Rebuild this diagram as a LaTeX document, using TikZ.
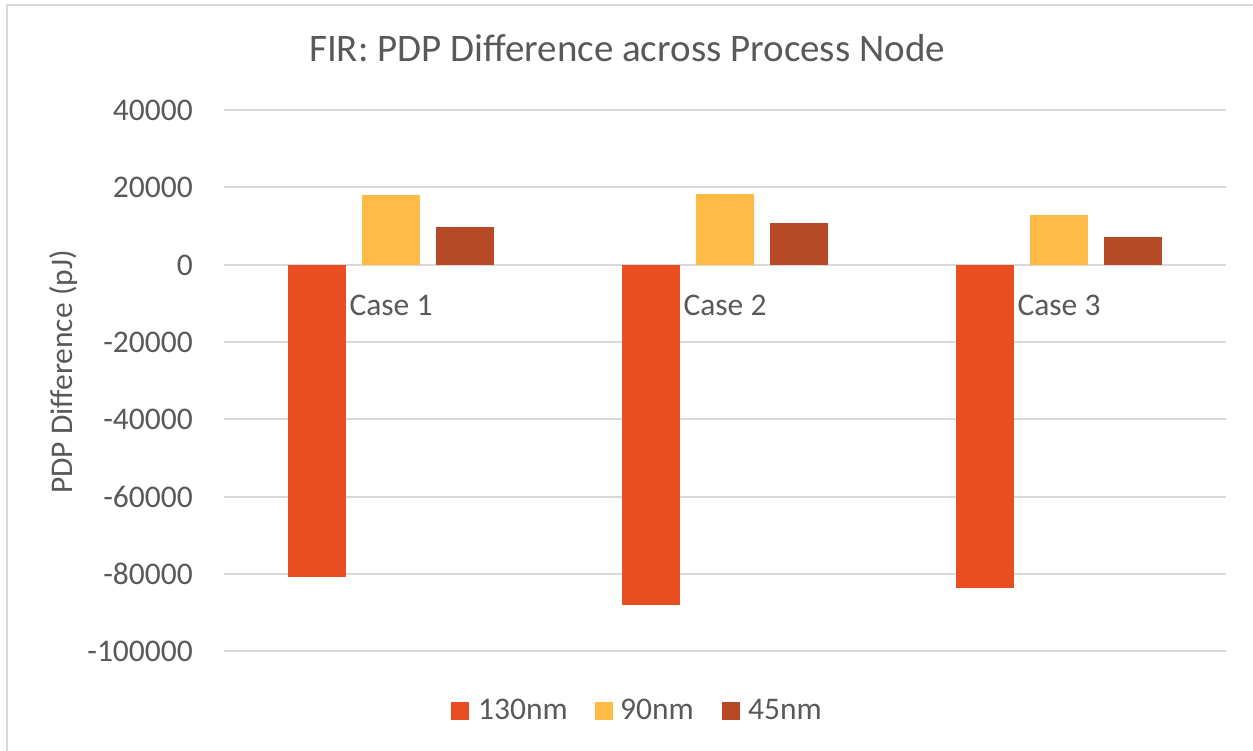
\documentclass[tikz,border=0pt]{standalone}
\usepackage{fontspec}
\setmainfont{Carlito}
\usetikzlibrary{positioning}
\definecolor{gridgray}{HTML}{D9D9D9}
\definecolor{textgray}{HTML}{595959}
\definecolor{nmA}{HTML}{E84E22}
\definecolor{nmB}{HTML}{FFBB46}
\definecolor{nmC}{HTML}{B64926}

\begin{document}
\begin{tikzpicture}[x=1pt,y=-1pt]
    \tikzstyle{every node}+=[inner sep=0pt, text=textgray, font=\fontsize{31.5}{36}\selectfont]
    \tikzstyle{grid}=[gridgray, line width=2]
    \tikzstyle{legbox}=[minimum size=18, anchor=center]
    \useasboundingbox (0,0) rectangle (1253,750);
    \draw [gridgray, line width=2] (7,760) -- (7,5) -- (1260,5);
    \node [anchor=base, font=\fontsize{39}{45}\selectfont] (title) at (627,61) {FIR: PDP Difference across Process Node};
    \node [anchor=base, rotate=90] (ytitle) at (72,372) {PDP Difference (pJ)};
    % gridlines
    \foreach \i/\lab in {2/40000,1/20000,0/0,-1/-20000,-2/-40000,-3/-60000,-4/-80000,-5/-100000} {
        \pgfmathsetmacro{\yy}{264.6-77.3*\i}
        \draw [grid] (224,\yy) -- (1226,\yy);
        \node [anchor=base east] (tick\i) at (193,\yy+10.5) {\lab};
    }
    % bars
    \foreach \c/\a/\b/\d in {1/-80.83/17.93/9.65, 2/-88.07/18.19/10.69, 3/-83.68/12.83/7.14} {
        \pgfmathsetmacro{\xc}{391+334*(\c-1)}
        \fill [nmA] (\xc-103,264.6) rectangle (\xc-45,264.6-3.865*\a);
        \fill [nmB] (\xc-29,264.6) rectangle (\xc+29,264.6-3.865*\b);
        \fill [nmC] (\xc+45,264.6) rectangle (\xc+103,264.6-3.865*\d);
        \node [anchor=base] (case\c) at (\xc,315.5) {Case \c};
    }
    % legend
    \node [legbox, fill=nmA] (leg130) at (460,711) {};
    \node [anchor=base west] (lab130) at (478,719.5) {130nm};
    \node [legbox, fill=nmB] (leg90) at (604,711) {};
    \node [anchor=base west] (lab90) at (620,719.5) {90nm};
    \node [legbox, fill=nmC] (leg45) at (731,711) {};
    \node [anchor=base west] (lab45) at (748,719.5) {45nm};
\end{tikzpicture}
\end{document}
